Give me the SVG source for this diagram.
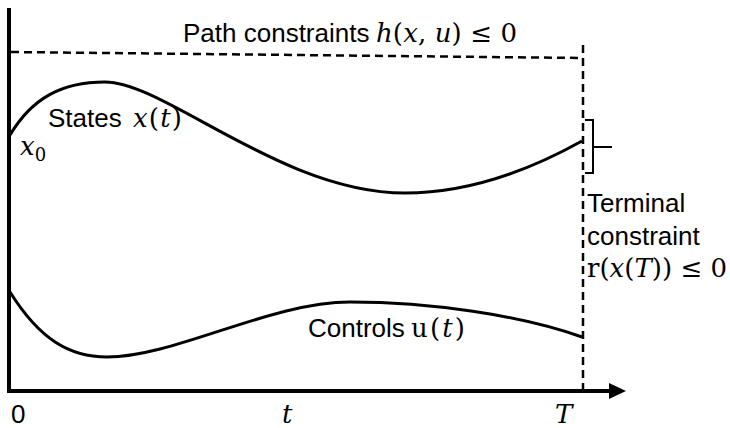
<svg xmlns="http://www.w3.org/2000/svg" width="730" height="428" viewBox="0 0 730 428">
<style>
.lbl{font-family:"Liberation Sans",Arial,sans-serif;font-size:26px;fill:#000}
.m{font-family:"DejaVu Serif","Liberation Serif",serif;font-size:26px;fill:#000}
.i{font-style:italic}
.curve{fill:none;stroke:#000;stroke-width:3}
.dash{fill:none;stroke:#000;stroke-width:2.5;stroke-dasharray:8,5}
.axis{fill:none;stroke:#000;stroke-width:4}
</style>
<rect width="730" height="428" fill="#fff"/>
<g id="axes">
<line class="axis" x1="9" y1="8" x2="9" y2="393"/>
<line class="axis" x1="7" y1="391" x2="612" y2="391"/>
<polygon points="609,383 626,391 609,399" fill="#000"/>
</g>
<g id="constraints">
<path class="dash" d="M11,52 L583,58"/>
<path class="dash" d="M583,45 V390"/>
<path d="M585,120 H593 V173 H585 M593,147 H612" fill="none" stroke="#000" stroke-width="2"/>
</g>
<g id="states">
<path class="curve" d="M10,135 C32,98 62,82 105,82 C165,82 282,193 405,193 C470,193 530,170 582,141"/>
</g>
<g id="controls">
<path class="curve" d="M10,292 C40,340 70,357 107,357 C175,357 270,302 350,302 C430,302 520,315 582,337"/>
</g>
<g id="labels">
<text x="183" y="42" class="lbl">Path constraints</text>
<text x="376" y="42" class="m" textLength="141" lengthAdjust="spacing"><tspan class="i">h</tspan>(<tspan class="i">x</tspan>, <tspan class="i">u</tspan>) ≤ 0</text>
<text x="48" y="127" class="lbl">States</text>
<text x="133" y="127" class="m" textLength="49" lengthAdjust="spacing"><tspan class="i">x</tspan>(<tspan class="i">t</tspan>)</text>
<text x="20" y="155" class="m i">x<tspan font-size="18" font-style="normal" dy="6">0</tspan></text>
<text x="308" y="337" class="lbl">Controls</text>
<text x="411" y="337" class="m" textLength="54" lengthAdjust="spacing">u(<tspan class="i">t</tspan>)</text>
<text x="587" y="212" class="lbl" font-size="27">Terminal</text>
<text x="587" y="245" class="lbl" font-size="27">constraint</text>
<text x="587" y="277" class="m" textLength="140" lengthAdjust="spacing">r(<tspan class="i">x</tspan>(<tspan class="i">T</tspan>)) ≤ 0</text>
<text x="11" y="423" class="lbl" font-size="22">0</text>
<text x="282" y="423" class="m i" font-size="24">t</text>
<text x="555" y="423" class="m i" font-size="24">T</text>
</g>
</svg>
